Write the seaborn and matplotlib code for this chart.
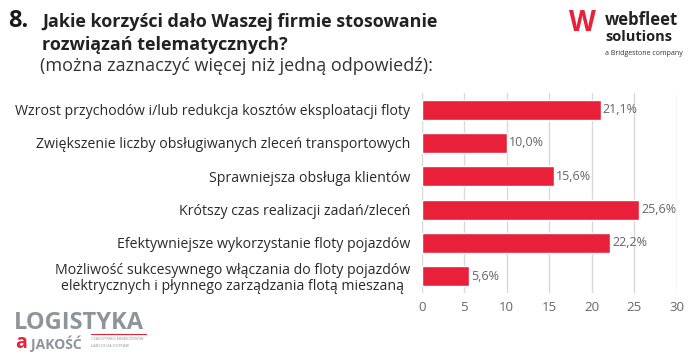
import matplotlib
matplotlib.use("Agg")
import matplotlib.pyplot as plt
import seaborn as sns
import pandas as pd

categories = [
    "Wzrost przychodów i/lub redukcja kosztów eksploatacji floty",
    "Zwiększenie liczby obsługiwanych zleceń transportowych",
    "Sprawniejsza obsługa klientów",
    "Krótszy czas realizacji zadań/zleceń",
    "Efektywniejsze wykorzystanie floty pojazdów",
    "Możliwość sukcesywnego włączania do floty pojazdów\nelektrycznych i płynnego zarządzania flotą mieszaną",
]
values = [21.1, 10.0, 15.6, 25.6, 22.2, 5.6]
value_labels = ["21,1%", "10,0%", "15,6%", "25,6%", "22,2%", "5,6%"]
x_ticks = [0, 5, 10, 15, 20, 25, 30]

sns.set_theme(style="white")
plt.rcParams['font.family'] = ['Open Sans', 'DejaVu Sans']

df = pd.DataFrame({"cat": categories, "val": values})
fig = plt.figure(figsize=(6.97, 3.55), dpi=100)
ax = fig.add_axes([0.605, 0.175, 0.366, 0.563])
sns.barplot(data=df, x="val", y="cat", color="#E8203A", saturation=1, width=0.6, ax=ax, zorder=3)
ax.set_xlim(0, 30)
ax.set_xticks(x_ticks)
ax.set_xticklabels([str(t) for t in x_ticks], color="#666666", fontsize=9.5)
ax.grid(axis="x", color="#d9d9d9", linewidth=1, zorder=0)
ax.set_xlabel("")
ax.set_ylabel("")
for s in ax.spines.values():
    s.set_visible(False)
ax.tick_params(axis="y", length=0, pad=8, labelsize=10.2, labelcolor="#2a2a2a")
ax.tick_params(axis="x", length=0, pad=6)
for lbl in ax.get_yticklabels():
    lbl.set_horizontalalignment("right")
    lbl.set_multialignment("center")
    lbl.set_linespacing(1.05)
for p, lab in zip(ax.patches, value_labels):
    ax.text(p.get_width() + 0.2, p.get_y() + p.get_height() / 2, lab,
            va="center", ha="left", fontsize=9, color="#666666")

# Title
fig.text(0.012, 0.942, "8.", fontsize=17, fontweight="bold", color="#1a1a1a", va="center")
fig.text(0.06, 0.938, "Jakie korzyści dało Waszej firmie stosowanie", fontsize=13,
         fontweight="bold", color="#222222", va="center")
fig.text(0.06, 0.873, "rozwiązań telematycznych?", fontsize=13,
         fontweight="bold", color="#222222", va="center")
fig.text(0.057, 0.815, "(można zaznaczyć więcej niż jedną odpowiedź):", fontsize=13,
         color="#333333", va="center")

# webfleet logo (as text)
fig.text(0.835, 0.935, "W", fontsize=20, fontweight="bold", color="#E8203A", va="center", ha="center")
fig.text(0.868, 0.945, "webfleet", fontsize=12, fontweight="bold", color="#222222", va="center")
fig.text(0.868, 0.895, "solutions", fontsize=10.5, fontweight="bold", color="#222222", va="center")
fig.text(0.868, 0.848, "a Bridgestone company", fontsize=5, color="#333333", va="center")

# Logistyka a Jakość logo (as text)
fig.text(0.02, 0.09, "LOGISTYKA", fontsize=17, fontweight="bold", color="#8c959a", va="center")
fig.text(0.022, 0.033, "a", fontsize=14, fontweight="bold", color="#E8203A", va="center")
fig.text(0.045, 0.033, "JAKOŚĆ", fontsize=10, fontweight="bold", color="#8c959a", va="center")
fig.text(0.13, 0.045, "CZASOPISMO MENEDŻERÓW", fontsize=2.8, color="#8c959a", va="center")
fig.text(0.13, 0.025, "ŁAŃCUCHA DOSTAW", fontsize=2.8, color="#8c959a", va="center")
fig.add_artist(plt.Line2D([0.13, 0.21], [0.06, 0.06], color="#E8203A", linewidth=0.8))

fig.savefig("out.png", dpi=100, facecolor="white")
